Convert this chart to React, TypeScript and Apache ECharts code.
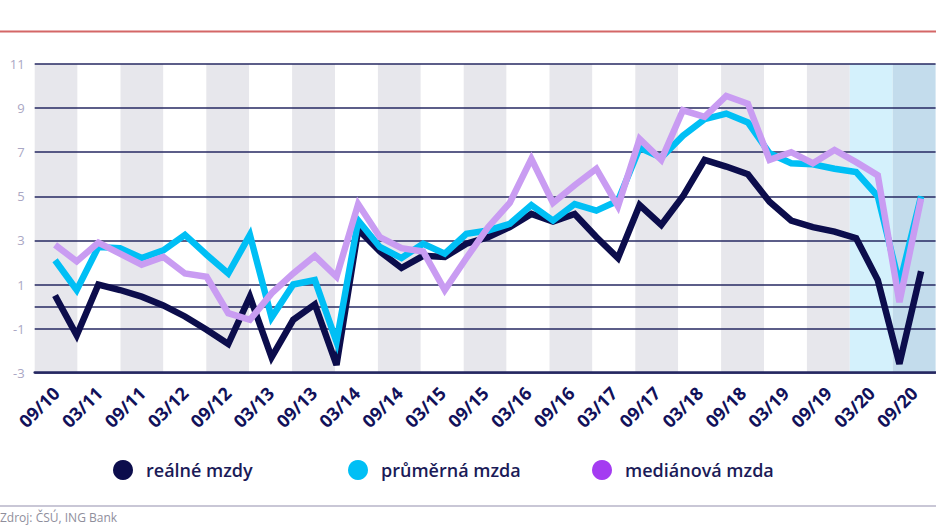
import React, { useEffect, useRef } from "react";
import * as echarts from "echarts";

// Tick labels (one every second quarter, 09/10 .. 09/20)
const tickLabels = [
  "09/10", "03/11", "09/11", "03/12", "09/12", "03/13", "09/13", "03/14",
  "09/14", "03/15", "09/15", "03/16", "09/16", "03/17", "09/17", "03/18",
  "09/18", "03/19", "09/19", "03/20", "09/20",
];

// Quarterly values, Q3 2010 .. Q3 2020 (41 quarters), y/y %
const realWages = [
  0.5, -1.3, 1.0, 0.75, 0.45, 0.05, -0.45, -1.05, -1.7, 0.45, -2.3,
  -0.6, 0.1, -2.65, 3.5, 2.5, 1.75, 2.3, 2.25, 2.85, 3.15, 3.6,
  4.2, 3.85, 4.2, 3.15, 2.2, 4.6, 3.7, 5.0, 6.65, 6.35, 6.0,
  4.75, 3.9, 3.6, 3.4, 3.1, 1.2, -2.6, 1.6,
];
const avgWage = [
  2.1, 0.75, 2.7, 2.65, 2.2, 2.55, 3.25, 2.35, 1.5, 3.25, -0.5,
  1.0, 1.2, -1.6, 3.9, 2.7, 2.2, 2.85, 2.4, 3.3, 3.45, 3.75,
  4.6, 3.9, 4.65, 4.35, 4.8, 7.2, 6.75, 7.75, 8.5, 8.75, 8.35,
  6.95, 6.5, 6.45, 6.25, 6.1, 5.0, 1.0, 5.0,
];
const medianWage = [
  2.8, 2.05, 2.9, 2.4, 1.9, 2.25, 1.5, 1.35, -0.3, -0.6, 0.6,
  1.5, 2.3, 1.35, 4.65, 3.15, 2.65, 2.5, 0.75, 2.2, 3.6, 4.7,
  6.7, 4.7, 5.5, 6.25, 4.55, 7.6, 6.65, 8.9, 8.6, 9.55, 9.2,
  6.65, 7.0, 6.5, 7.1, 6.55, 5.95, 0.2, 4.9,
];

const seriesNames = ["reálné mzdy", "průměrná mzda", "mediánová mzda"];
const lineColors = ["#0c0d4c", "#00bff5", "#c99cf2"];
const legendColors = ["#0c0d4c", "#00bff5", "#a43cf1"];
const legendLefts = [108, 343, 587];

const NAVY = "#262962";

export default function App() {
  const ref = useRef<HTMLDivElement>(null);

  useEffect(() => {
    if (!ref.current) return;
    const chart = echarts.init(ref.current, undefined, { renderer: "svg" });

    const bandColors = tickLabels.map((_, i) =>
      i === tickLabels.length - 2
        ? "#d4f1fc"
        : i === tickLabels.length - 1
        ? "#c3dcec"
        : i % 2 === 0
        ? "#e7e7ec"
        : "#ffffff"
    );

    const seriesData = [realWages, avgWage, medianWage];

    const option: any = {
      animation: false,
      grid: { left: 34.7, right: 0.4, top: 64, bottom: 153.3, containLabel: false },
      xAxis: [
        { type: "value", min: -0.94, max: 40.67, show: false },
        {
          type: "category",
          data: tickLabels,
          boundaryGap: true,
          position: "bottom",
          z: 0,
          axisLine: { show: true, onZero: false, lineStyle: { color: NAVY, width: 2.5 } },
          axisTick: { show: false, interval: 0 },
          axisLabel: {
            interval: 0,
            rotate: 45,
            margin: 17,
            color: "#11115a",
            fontSize: 18,
            fontWeight: 700,
            fontFamily: "Open Sans",
          },
          splitLine: { show: false },
          splitArea: { show: true, interval: 0, areaStyle: { color: bandColors } },
        },
      ],
      yAxis: {
        type: "value",
        min: -3,
        max: 11,
        interval: 2,
        z: 1,
        axisLine: { show: false },
        axisTick: { show: false },
        axisLabel: { margin: 10, color: "#aaa7c4", fontSize: 13, fontFamily: "Open Sans" },
        splitLine: { show: true, lineStyle: { color: NAVY, width: 1.5 } },
      },
      legend: seriesNames.map((n, i) => ({
        left: legendLefts[i],
        top: 455,
        icon: "circle",
        itemWidth: 36,
        itemHeight: 20,
        itemStyle: { borderWidth: 0 },
        textStyle: { fontSize: 18, color: "#1b1b58", fontWeight: 600, fontFamily: "Open Sans" },
        data: [{ name: n, itemStyle: { color: legendColors[i] } }],
      })),
      series: [
        {
          type: "line",
          name: "zero",
          xAxisIndex: 0,
          data: [],
          silent: true,
          markLine: {
            z: 1,
            silent: true,
            symbol: "none",
            label: { show: false },
            lineStyle: { color: NAVY, width: 1.5, type: "solid" },
            data: [{ yAxis: 0 }],
          },
        },
        ...seriesNames.map((name, s) => ({
          type: "line",
          name,
          xAxisIndex: 0,
          data: seriesData[s].map((v, i) => [i, v]),
          showSymbol: false,
          symbol: "none",
          z: 2 + s,
          itemStyle: { color: legendColors[s] },
          lineStyle: { width: 6.5, color: lineColors[s], join: "miter", miterLimit: 4 },
        })),
      ],
      graphic: [
        {
          type: "line",
          shape: { x1: 0, y1: 31.5, x2: 936, y2: 31.5 },
          style: { stroke: "#d46767", lineWidth: 2 },
        },
        {
          type: "line",
          shape: { x1: 0, y1: 506, x2: 936, y2: 506 },
          style: { stroke: "#b7b5c9", lineWidth: 1.5 },
        },
        {
          type: "text",
          x: 0,
          y: 511,
          style: {
            text: "Zdroj: ČSÚ, ING Bank",
            fill: "#8f8e9c",
            fontSize: 12,
            fontFamily: "Open Sans",
            verticalAlign: "top",
          },
        },
      ],
    };

    chart.setOption(option);
    return () => chart.dispose();
  }, []);

  return (
    <div
      ref={ref}
      style={{ position: "absolute", left: 0, top: 0, width: 936, height: 526 }}
    />
  );
}
